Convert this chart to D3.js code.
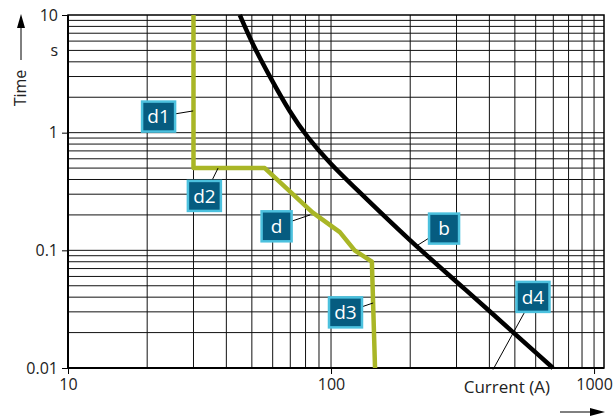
<!DOCTYPE html>
<html>
<head>
<meta charset="utf-8">
<script src="https://cdn.jsdelivr.net/npm/d3@7"></script>
<style>
  body { margin: 0; background: #fff; }
  svg { display: block; font-family: "Open Sans", "Noto Sans", sans-serif; }
</style>
</head>
<body>
<svg id="chart" width="616" height="418"></svg>
<script>
// axis ticks
const xTickValues = [10, 100, 1000];
const xTickLabels = ["10", "100", "1000"];
const yTickValues = [10, 1, 0.1, 0.01];
const yTickLabels = ["10", "1", "0.1", "0.01"];

// curve b (current A, time s)
const curveB = [[45, 10], [50, 5.8], [58.6, 2.97], [70, 1.47], [81, 0.92], [99, 0.55], [120, 0.36], [203, 0.116], [301, 0.054], [698, 0.01]];
// curve d
const curveD = [[30, 10], [30, 0.5], [56, 0.5], [85, 0.21], [108, 0.143], [123, 0.1], [143, 0.08], [147, 0.01]];

// callouts: text, box centre (A, s), leader end (A, s)
const callouts = [
  { text: "d1", at: [22.1, 1.37], to: [29.9, 1.53] },
  { text: "d2", at: [33.0, 0.29], to: [37.2, 0.5] },
  { text: "d",  at: [62.1, 0.16], to: [83.3, 0.2] },
  { text: "b",  at: [269, 0.153], to: [214, 0.111] },
  { text: "d3", at: [113.5, 0.0297], to: [144.6, 0.0357] },
  { text: "d4", at: [586, 0.0402], to: [413, 0.0097] }
];

(function () {
  const svg = d3.select("#chart");
  const pLeft = 68, pRight = 604, pTop = 15, pBottom = 368;

  const x = d3.scaleLog().domain([10, 1091]).range([pLeft, pRight]);
  const y = d3.scaleLog().domain([0.01, 10]).range([pBottom, pTop]);

  // grid
  const xGrid = [];
  [10, 100].forEach(dec => { for (let k = 2; k <= 10; k++) xGrid.push(dec * k); });
  const yGrid = [];
  [0.01, 0.1, 1].forEach(dec => { for (let k = 2; k <= 9; k++) yGrid.push(dec * k); });
  yGrid.push(0.1, 1);

  const grid = svg.append("g");
  grid.selectAll("line.v").data(xGrid).enter().append("line")
    .attr("x1", d => x(d)).attr("x2", d => x(d))
    .attr("y1", pTop).attr("y2", pBottom)
    .attr("stroke", "#111").attr("stroke-width", 1);
  grid.selectAll("line.h").data(yGrid).enter().append("line")
    .attr("x1", pLeft).attr("x2", pRight)
    .attr("y1", d => y(d)).attr("y2", d => y(d))
    .attr("stroke", "#111").attr("stroke-width", 1);

  // frame
  svg.append("rect")
    .attr("x", pLeft).attr("y", pTop)
    .attr("width", pRight - pLeft).attr("height", pBottom - pTop)
    .attr("fill", "none").attr("stroke", "#000").attr("stroke-width", 1.5);
  svg.append("line").attr("x1", pLeft).attr("x2", pLeft).attr("y1", pTop).attr("y2", pBottom)
    .attr("stroke", "#000").attr("stroke-width", 2);
  svg.append("line").attr("x1", pLeft).attr("x2", pRight).attr("y1", pBottom).attr("y2", pBottom)
    .attr("stroke", "#000").attr("stroke-width", 2);

  // axes (ticks outside)
  const yAxis = d3.axisLeft(y).tickValues(yTickValues).tickSize(6).tickFormat((d, i) => yTickLabels[i]);
  const gy = svg.append("g").attr("transform", `translate(${pLeft},0)`).call(yAxis);
  gy.select(".domain").remove();
  gy.selectAll("text").attr("font-size", 16).attr("fill", "#222").attr("x", -10)
    .attr("font-family", "Open Sans, Noto Sans, sans-serif");

  const xAxis = d3.axisBottom(x).tickValues(xTickValues).tickSize(6).tickFormat((d, i) => xTickLabels[i]);
  const gx = svg.append("g").attr("transform", `translate(0,${pBottom})`).call(xAxis);
  gx.select(".domain").remove();
  gx.selectAll("text").attr("font-size", 16).attr("fill", "#222").attr("y", 11)
    .attr("font-family", "Open Sans, Noto Sans, sans-serif");

  // unit "s"
  svg.append("text").attr("x", 58).attr("y", y(5)).attr("dy", "0.32em")
    .attr("text-anchor", "end").attr("font-size", 16).attr("fill", "#222").text("s");

  // axis titles with arrows
  svg.append("text").attr("transform", "translate(26,88) rotate(-90)")
    .attr("text-anchor", "middle").attr("font-size", 16).attr("fill", "#222").text("Time");
  svg.append("line").attr("x1", 21).attr("x2", 21).attr("y1", 60).attr("y2", 26)
    .attr("stroke", "#000").attr("stroke-width", 1);
  svg.append("path").attr("d", "M21,14 L17,28 L25,28 Z").attr("fill", "#000");

  svg.append("text").attr("x", 550).attr("y", 393).attr("text-anchor", "end")
    .attr("font-size", 17).attr("fill", "#222").text("Current (A)");
  svg.append("line").attr("x1", 560).attr("x2", 592).attr("y1", 412).attr("y2", 412)
    .attr("stroke", "#000").attr("stroke-width", 1);
  svg.append("path").attr("d", "M605,412 L590,408 L590,416 Z").attr("fill", "#000");

  // curves
  const lineB = d3.line().x(d => x(d[0])).y(d => y(d[1])).curve(d3.curveBasis);
  const lineD = d3.line().x(d => x(d[0])).y(d => y(d[1]));

  const plot = svg.append("g");
  plot.append("path").datum(curveD).attr("d", lineD)
    .attr("fill", "none").attr("stroke", "#a9b626").attr("stroke-width", 4.5)
    .attr("stroke-linejoin", "round");
  plot.append("path").datum(curveB).attr("d", lineB)
    .attr("fill", "none").attr("stroke", "#000").attr("stroke-width", 4.5);

  // callouts
  const cg = svg.append("g").selectAll("g").data(callouts).enter().append("g");
  cg.append("line")
    .attr("x1", d => x(d.at[0])).attr("y1", d => y(d.at[1]))
    .attr("x2", d => x(d.to[0])).attr("y2", d => y(d.to[1]))
    .attr("stroke", "#000").attr("stroke-width", 1);
  cg.each(function (d) {
    const g = d3.select(this);
    const cx = x(d.at[0]), cy = y(d.at[1]);
    const w = d.text.length > 1 ? 33 : 30, h = 30;
    g.append("rect").attr("x", cx - w / 2).attr("y", cy - h / 2)
      .attr("width", w).attr("height", h)
      .attr("fill", "#065c80").attr("stroke", "#4cc1de").attr("stroke-width", 2.5);
    g.append("text").attr("x", cx).attr("y", cy).attr("dy", "0.35em")
      .attr("text-anchor", "middle").attr("font-size", 19).attr("fill", "#fff")
      .text(d.text);
  });
})();
</script>
</body>
</html>
